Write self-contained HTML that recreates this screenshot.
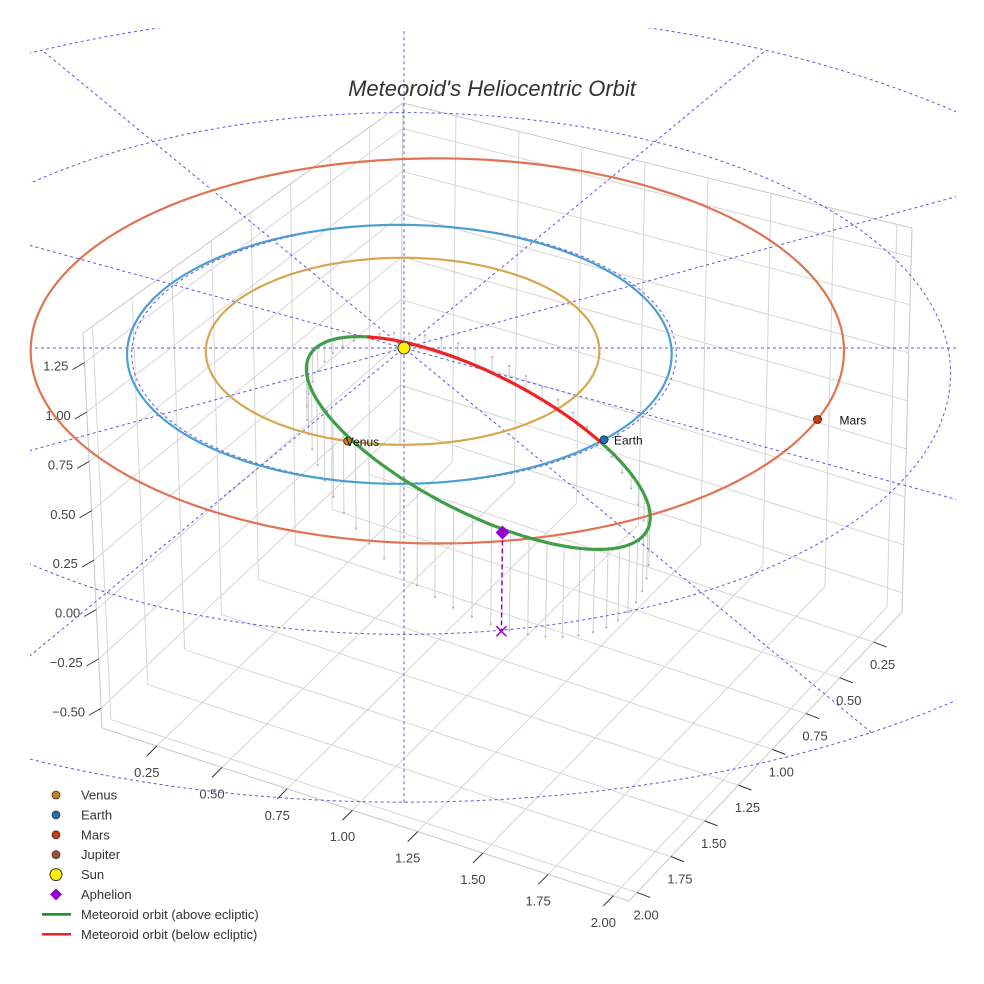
<!DOCTYPE html>
<html><head><meta charset="utf-8"><style>
html,body{margin:0;padding:0;background:#fff;}
svg{display:block;font-family:"Liberation Sans",sans-serif;}
</style></head><body>
<svg id="chart" width="984" height="984" viewBox="0 0 984 984">
<defs><clipPath id="clipArea"><rect x="30" y="28" width="926" height="956"/></clipPath></defs>
<g id="box"></g>
<g id="ticks"></g>
<g id="drops"></g>
<g id="grid" clip-path="url(#clipArea)"></g>
<g id="orbits"></g>
<g id="meteor"></g>
<g id="marks"></g>
<text x="492" y="96" text-anchor="middle" font-size="22" font-style="italic" fill="#333">Meteoroid's Heliocentric Orbit</text>
<g id="legend"></g>
</svg>
<script>
// ---- data ----
const planetNames = ['Venus', 'Earth', 'Mars'];
const orbitA = [0.723, 1.0, 1.50];
const orbitE = [0.007, 0.017, 0.1];
const orbitPeri = [0, 0, 145];
const planetAngle = [106, 44, 20];
const planetColors = ['#c9811c', '#1f6fb4', '#c8400f'];
const ringColors = ['#d8a650', '#4a9fd0', '#e07352'];
const gridRadii = [1, 2, 3];
const gridAngles = [0, 30, 60, 90, 120, 150];
const meteorCenter = [0.244, 0.95, 0.16];
const meteorAxisA = [0.452, -0.25, -0.16];
const meteorAxisB = [0.3835, 1.037, 0.16];
const aphelionPoint = [0.3235, 1.98, 0.3805];
const xTicks = [0.25, 0.5, 0.75, 1.0, 1.25, 1.5, 1.75, 2.0];
const yTicks = [0.25, 0.5, 0.75, 1.0, 1.25, 1.5, 1.75, 2.0];
const zTicks = [-0.5, -0.25, 0, 0.25, 0.5, 0.75, 1.0, 1.25];
const xRange = [0.04, 2.06];
const yRange = [0.04, 2.06];
const zRange = [-0.6, 1.4];
const legendLabels = ['Venus', 'Earth', 'Mars', 'Jupiter', 'Sun', 'Aphelion', 'Meteoroid orbit (above ecliptic)', 'Meteoroid orbit (below ecliptic)'];

const NS = 'http://www.w3.org/2000/svg';
function el(tag, attrs, parent) { const e = document.createElementNS(NS, tag); for (const k in attrs) e.setAttribute(k, attrs[k]); parent.appendChild(e); return e; }
const D = 18, ca = 0.88, sa = 0.475, K = 272, CX = 404, CY = 348;
function proj(x, y, z) { const depth = y * ca + z * sa; const s = D / (D - depth); return [CX + K * x * s, CY - K * (z * ca - y * sa) * s]; }
function pathFrom(pts) { return pts.map((p, i) => (i ? 'L' : 'M') + p[0].toFixed(1) + ' ' + p[1].toFixed(1)).join(' '); }

// ---- axis box ----
const B0 = [400, 445], R0 = [902, 612], L0 = [102, 728], F0 = [629, 901], B1 = [403, 103], L1 = [83, 333], R1 = [912, 228];
function bil(p00, p10, p01, p11, a, b) { return [p00[0] * (1 - a) * (1 - b) + p10[0] * a * (1 - b) + p01[0] * (1 - a) * b + p11[0] * a * b, p00[1] * (1 - a) * (1 - b) + p10[1] * a * (1 - b) + p01[1] * (1 - a) * b + p11[1] * a * b]; }
const xn = v => (v - xRange[0]) / (xRange[1] - xRange[0]);
const yn = v => (v - yRange[0]) / (yRange[1] - yRange[0]);
const zn = v => (v - zRange[0]) / (zRange[1] - zRange[0]);
const floorP = (a, b) => bil(B0, R0, L0, F0, a, b);
const leftP = (b, c) => bil(B0, L0, B1, L1, b, c);
const rightP = (a, c) => bil(B0, R0, B1, R1, a, c);
const box = document.getElementById('box');
function gl(p, q, col, name) {
  const l = el('line', { x1: p[0], y1: p[1], x2: q[0], y2: q[1], stroke: col, 'stroke-width': 1 }, box);
  
  
}
xTicks.forEach(v => { gl(floorP(xn(v), 0), floorP(xn(v), 1), '#d6d6d6', 'floor-gridline-x'); gl(rightP(xn(v), 0), rightP(xn(v), 1), '#d6d6d6', 'wall-gridline-x'); });
yTicks.forEach(v => { gl(floorP(0, yn(v)), floorP(1, yn(v)), '#d6d6d6', 'floor-gridline-y'); gl(leftP(yn(v), 0), leftP(yn(v), 1), '#d6d6d6', 'wall-gridline-y'); });
zTicks.forEach(v => { gl(leftP(0, zn(v)), leftP(1, zn(v)), '#d6d6d6', 'wall-gridline-z'); gl(rightP(0, zn(v)), rightP(1, zn(v)), '#d6d6d6', 'wall-gridline-z'); });
[[L0, F0], [F0, R0], [L0, L1], [R0, R1], [L1, B1], [B1, R1], [B0, B1]].forEach(e => gl(e[0], e[1], '#c8c8c8', 'box-edge'));

// ---- ticks ----
const tk = document.getElementById('ticks');
function tick(p, d, lbl, lx, ly, anchor, name) {
  const l = el('line', { x1: p[0], y1: p[1], x2: p[0] + d[0], y2: p[1] + d[1], stroke: '#333', 'stroke-width': 1 }, tk);
  
  
  const t = el('text', { x: lx, y: ly, 'text-anchor': anchor, 'font-size': 13, fill: '#444' }, tk);
  t.textContent = lbl;
  
  
}
const fmt = v => (v < 0 ? '\u2212' : '') + Math.abs(v).toFixed(2);
xTicks.forEach(v => { const p = floorP(xn(v), 1); tick(p, [-10, 10], fmt(v), p[0] - 10, p[1] + 31, 'middle', 'x-axis'); });
yTicks.forEach(v => { const p = floorP(1, yn(v)); tick(p, [13, 5], fmt(v), p[0] + 9, p[1] + 27, 'middle', 'y-axis'); });
zTicks.forEach(v => { const p = leftP(1, zn(v)); tick(p, [-12, 7], fmt(v), p[0] - 16, p[1] + 8, 'end', 'z-axis'); });

// ---- ecliptic grid (dashed) ----
const grid = document.getElementById('grid');
gridRadii.forEach(r => {
  const pts = []; for (let a = 0; a <= 360; a += 2) { const t = a * Math.PI / 180; pts.push(proj(r * Math.cos(t), r * Math.sin(t), 0)); }
  const p = el('path', { d: pathFrom(pts), fill: 'none', stroke: '#5a5ae0', 'stroke-width': 1, 'stroke-dasharray': '3,3' }, grid);
  
  
});
const rMax = gridRadii[gridRadii.length - 1];
gridAngles.forEach(a => {
  const t = a * Math.PI / 180; const p1 = proj(rMax * Math.cos(t), rMax * Math.sin(t), 0), p2 = proj(-rMax * Math.cos(t), -rMax * Math.sin(t), 0);
  const l = el('line', { x1: p1[0], y1: p1[1], x2: p2[0], y2: p2[1], stroke: '#5a5ae0', 'stroke-width': 1, 'stroke-dasharray': '3,3' }, grid);
  
  
});

// ---- planet orbits ----
const orbG = document.getElementById('orbits');
function planetPos(i, ang) { const th = ang * Math.PI / 180, w = orbitPeri[i] * Math.PI / 180; const r = orbitA[i] * (1 - orbitE[i] * orbitE[i]) / (1 + orbitE[i] * Math.cos(th - w)); return [r * Math.cos(th), r * Math.sin(th), 0]; }
planetNames.forEach((n, i) => {
  const pts = []; for (let a = 0; a <= 360; a += 2) { const q = planetPos(i, a); pts.push(proj(q[0], q[1], q[2])); }
  const p = el('path', { d: pathFrom(pts), fill: 'none', stroke: ringColors[i], 'stroke-width': 2.2 }, orbG);
  
  
});

// ---- meteoroid orbit ----
function mPoint(t) { const c = Math.cos(t), s = Math.sin(t); return [0, 1, 2].map(k => meteorCenter[k] + meteorAxisA[k] * c + meteorAxisB[k] * s); }
const drops = document.getElementById('drops');
for (let a = 0; a < 360; a += 6) {
  const q = mPoint(a * Math.PI / 180); const p1 = proj(q[0], q[1], q[2]), p2 = proj(q[0], q[1], 0);
  const l = el('line', { x1: p1[0], y1: p1[1], x2: p2[0], y2: p2[1], stroke: '#cfcfcf', 'stroke-width': 1 }, drops);
  
  
  const d = el('circle', { cx: p2[0], cy: p2[1], r: 1.2, fill: '#bbb' }, drops);
  
  
}
const mG = document.getElementById('meteor');
let seg = [], segSign = null;
function flush() {
  if (seg.length > 1) {
    const p = el('path', { d: pathFrom(seg), fill: 'none', stroke: segSign > 0 ? '#3f9f47' : '#ee2424', 'stroke-width': 3.2, 'stroke-linecap': 'round' }, mG);
    
    
  }
}
for (let a = 0; a <= 360; a += 1) {
  const q = mPoint(a * Math.PI / 180); const sg = q[2] >= 0 ? 1 : -1; const pt = proj(q[0], q[1], q[2]);
  if (segSign !== null && sg !== segSign) { seg.push(pt); flush(); seg = [pt]; } else seg.push(pt);
  segSign = sg;
}
flush();

// ---- markers ----
const mk = document.getElementById('marks');
const ap = proj(aphelionPoint[0], aphelionPoint[1], aphelionPoint[2]);
const apg = proj(aphelionPoint[0], aphelionPoint[1], 0);
let e1 = el('line', { x1: ap[0], y1: ap[1], x2: apg[0], y2: apg[1], stroke: '#9400d3', 'stroke-width': 1.5, 'stroke-dasharray': '5,3' }, mk);


let e2 = el('path', { d: `M${apg[0] - 5} ${apg[1] - 5} L${apg[0] + 5} ${apg[1] + 5} M${apg[0] + 5} ${apg[1] - 5} L${apg[0] - 5} ${apg[1] + 5}`, stroke: '#9400d3', 'stroke-width': 1.5 }, mk);


let e3 = el('path', { d: `M${ap[0]} ${ap[1] - 7} L${ap[0] + 7} ${ap[1]} L${ap[0]} ${ap[1] + 7} L${ap[0] - 7} ${ap[1]} Z`, fill: '#9400d3' }, mk);


const sun = proj(0, 0, 0);
let e4 = el('circle', { cx: sun[0], cy: sun[1], r: 6, fill: '#ffee00', stroke: '#333', 'stroke-width': 1 }, mk);


planetNames.forEach((n, i) => {
  const q = planetPos(i, planetAngle[i]); const p = proj(q[0], q[1], q[2]);
  const c = el('circle', { cx: p[0], cy: p[1], r: 4, fill: planetColors[i], stroke: '#222', 'stroke-width': 0.8 }, mk);
  
  
  const t = el('text', { x: p[0] + (i === 0 ? -2 : i === 1 ? 10 : 22), y: p[1] + 5, 'font-size': 12, fill: '#111' }, mk);
  t.textContent = n;
  
  
});

// ---- legend ----
const lg = document.getElementById('legend');
const legColors = ['#c9811c', '#1f6fb4', '#c8400f', '#a0522d', '#ffee00', '#9400d3', '#1a8a1a', '#ee2424'];
legendLabels.forEach((lab, i) => {
  const y = 795 + i * 19.9;
  const g = el('g', {}, lg);
  
  
  if (i < 4) el('circle', { cx: 56, cy: y, r: 4, fill: legColors[i], stroke: '#333', 'stroke-width': 0.8 }, g);
  else if (i === 4) el('circle', { cx: 56, cy: y, r: 6, fill: legColors[i], stroke: '#333', 'stroke-width': 1 }, g);
  else if (i === 5) el('path', { d: `M56 ${y - 6} L62 ${y} L56 ${y + 6} L50 ${y} Z`, fill: legColors[i] }, g);
  else el('line', { x1: 42, y1: y, x2: 71, y2: y, stroke: legColors[i], 'stroke-width': 2.5 }, g);
  const t = el('text', { x: 81, y: y + 4.5, 'font-size': 13, fill: '#333' }, g);
  t.textContent = lab;
});
</script>
</body></html>
